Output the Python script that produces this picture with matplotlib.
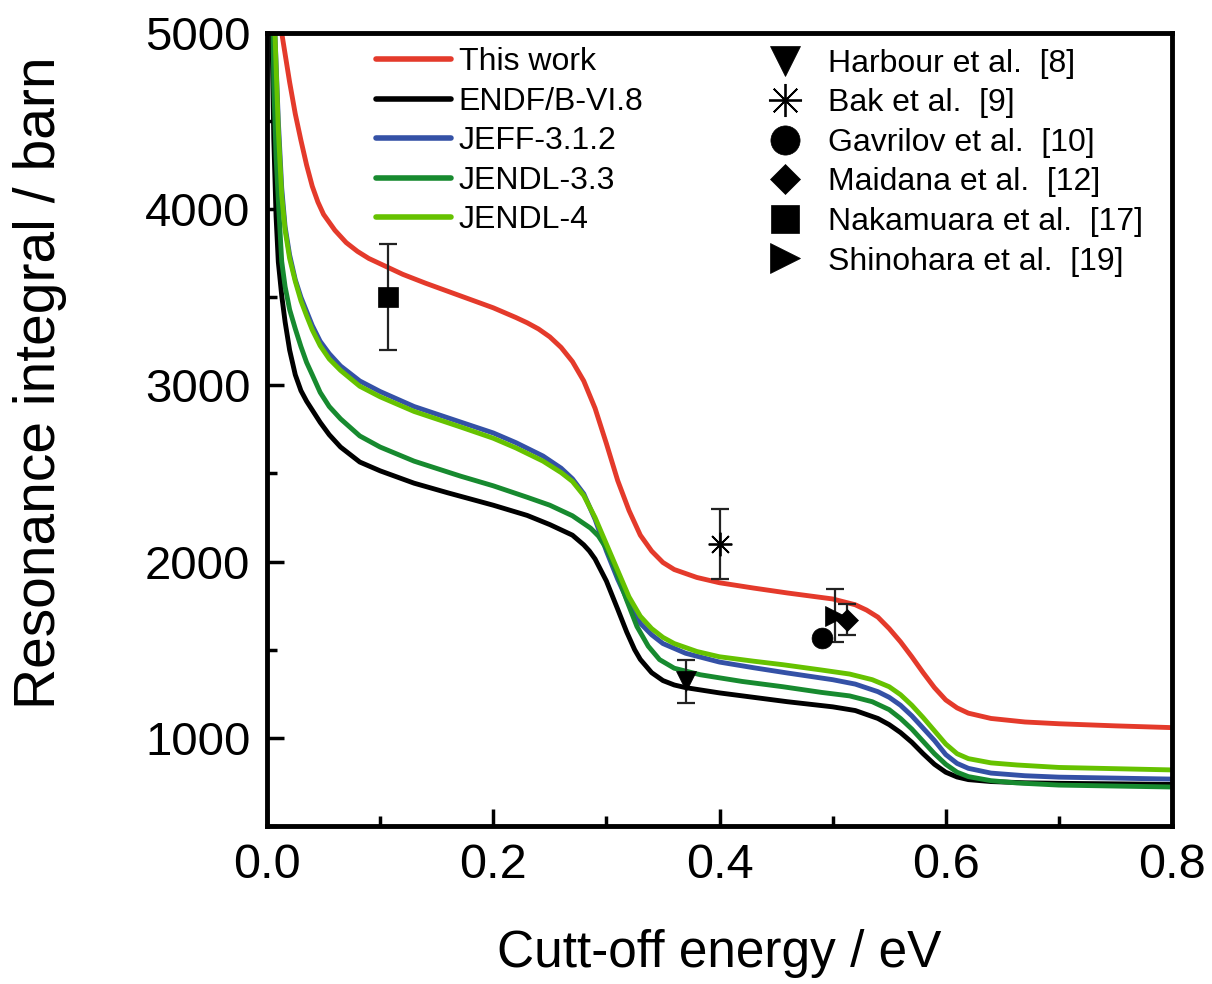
import numpy as np
import matplotlib
matplotlib.use("Agg")
import matplotlib.pyplot as plt
from matplotlib.ticker import MultipleLocator

plt.rcParams['font.family'] = ['Liberation Sans', 'DejaVu Sans']

# curves (cut-off energy in eV, resonance integral in barn)
x_red = [0.008, 0.013, 0.016, 0.02, 0.025, 0.03, 0.035, 0.04, 0.045, 0.05, 0.06,
         0.07, 0.08, 0.09, 0.10, 0.12, 0.14, 0.17, 0.20, 0.22, 0.23, 0.24, 0.25,
         0.26, 0.27, 0.28, 0.29, 0.30, 0.31, 0.32, 0.33, 0.34, 0.35, 0.36, 0.38,
         0.40, 0.43, 0.46, 0.50, 0.52, 0.53, 0.54, 0.55, 0.56, 0.57, 0.58, 0.59,
         0.60, 0.61, 0.62, 0.64, 0.67, 0.70, 0.75, 0.80]
y_red = [5600, 5000, 4880, 4720, 4540, 4390, 4250, 4130, 4040, 3970, 3880,
         3810, 3760, 3720, 3690, 3630, 3580, 3510, 3440, 3385, 3355, 3320, 3275,
         3215, 3135, 3025, 2870, 2670, 2460, 2290, 2150, 2060, 1995, 1955, 1910,
         1880, 1850, 1822, 1788, 1755, 1725, 1685, 1620, 1545, 1460, 1370, 1285,
         1215, 1170, 1140, 1110, 1090, 1080, 1068, 1058]

x_endf = [0.003, 0.0044, 0.006, 0.008, 0.010, 0.013, 0.016, 0.02, 0.025, 0.03,
          0.035, 0.04, 0.047, 0.055, 0.065, 0.082, 0.10, 0.13, 0.16, 0.20, 0.23,
          0.25, 0.27, 0.28, 0.285, 0.29, 0.30, 0.31, 0.318, 0.325, 0.33, 0.34,
          0.35, 0.36, 0.37, 0.40, 0.43, 0.46, 0.50, 0.52, 0.54, 0.55, 0.56, 0.57,
          0.58, 0.59, 0.60, 0.61, 0.62, 0.64, 0.67, 0.70, 0.80]
y_endf = [5600, 5000, 4400, 3960, 3700, 3509, 3360, 3200, 3060, 2970,
          2910, 2860, 2790, 2720, 2650, 2565, 2515, 2445, 2390, 2320, 2262,
          2210, 2150, 2095, 2060, 2015, 1890, 1730, 1600, 1500, 1445, 1370,
          1325, 1300, 1285, 1255, 1230, 1205, 1176, 1155, 1110, 1075, 1030, 975,
          910, 850, 805, 778, 763, 752, 745, 742, 736]

x_jeff = [0.004, 0.007, 0.010, 0.013, 0.016, 0.02, 0.025, 0.03, 0.035, 0.04,
          0.047, 0.055, 0.065, 0.082, 0.10, 0.13, 0.171, 0.20, 0.22, 0.244, 0.26,
          0.27, 0.28, 0.29, 0.30, 0.31, 0.32, 0.33, 0.34, 0.35, 0.37, 0.40, 0.43,
          0.46, 0.50, 0.52, 0.54, 0.55, 0.56, 0.57, 0.58, 0.59, 0.60, 0.61, 0.62,
          0.64, 0.67, 0.70, 0.80]
y_jeff = [5700, 5000, 4500, 4120, 3900, 3740, 3600, 3500, 3420, 3340,
          3250, 3180, 3110, 3025, 2965, 2880, 2792, 2730, 2675, 2599, 2530,
          2470, 2385, 2240, 2060, 1900, 1760, 1650, 1585, 1535, 1480, 1430, 1398,
          1368, 1330, 1305, 1262, 1230, 1185, 1125, 1055, 985, 905, 855, 827,
          800, 785, 777, 766]

x_jendl33 = [0.004, 0.006, 0.008, 0.010, 0.013, 0.016, 0.02, 0.025, 0.03, 0.035,
             0.04, 0.047, 0.055, 0.065, 0.082, 0.10, 0.13, 0.171, 0.20, 0.23,
             0.25, 0.27, 0.286, 0.293, 0.30, 0.309, 0.318, 0.327, 0.337, 0.347,
             0.36, 0.383, 0.42, 0.456, 0.49, 0.515, 0.535, 0.55, 0.56, 0.57,
             0.58, 0.59, 0.60, 0.61, 0.62, 0.64, 0.663, 0.70, 0.80]
y_jendl33 = [5600, 4704, 4300, 4050, 3703, 3560, 3430, 3321, 3220, 3130,
             3060, 2960, 2880, 2810, 2713, 2650, 2570, 2485, 2430, 2365,
             2320, 2260, 2190, 2145, 2075, 1939, 1780, 1632, 1520, 1444,
             1395, 1358, 1320, 1290, 1258, 1238, 1205, 1160, 1110, 1050,
             980, 910, 850, 805, 780, 757, 744, 732, 721]

x_jendl4 = [0.004, 0.007, 0.010, 0.013, 0.016, 0.02, 0.025, 0.03, 0.035, 0.04,
            0.047, 0.055, 0.065, 0.082, 0.10, 0.13, 0.171, 0.20, 0.22, 0.244,
            0.26, 0.27, 0.28, 0.29, 0.30, 0.31, 0.32, 0.33, 0.34, 0.35, 0.36,
            0.38, 0.40, 0.43, 0.456, 0.49, 0.515, 0.535, 0.55, 0.56, 0.57, 0.58,
            0.59, 0.60, 0.61, 0.62, 0.64, 0.663, 0.70, 0.80]
y_jendl4 = [5700, 5000, 4450, 4078, 3880, 3720, 3590, 3480, 3395, 3315,
            3225, 3150, 3085, 2995, 2935, 2852, 2764, 2700, 2645, 2570,
            2505, 2455, 2375, 2250, 2100, 1950, 1800, 1690, 1620, 1570, 1535,
            1490, 1460, 1435, 1415, 1385, 1362, 1330, 1290, 1245, 1185, 1115,
            1040, 965, 910, 882, 858, 846, 832, 818]

# experimental values
exp_names = ['Harbour et al.  [8]', 'Bak et al.  [9]', 'Gavrilov et al.  [10]',
             'Maidana et al.  [12]', 'Nakamuara et al.  [17]', 'Shinohara et al.  [19]']
exp_x = [0.370, 0.400, 0.491, 0.513, 0.107, 0.502]
exp_y = [1320, 2100, 1569, 1670, 3500, 1694]
exp_err = [120, 200, 0, 88, 300, 148]
exp_markers = ['v', (8, 2, 0), 'o', 'D', 's', '>']
exp_sizes = [15, 17, 15, 11, 14, 15]

fig = plt.figure(figsize=(12.12, 9.84), dpi=100)
ax = fig.add_axes([0.2203, 0.1606, 0.7467, 0.806])

curves = [
    (x_red, y_red, '#e43a2b', 'This work'),
    (x_endf, y_endf, 'black', 'ENDF/B-VI.8'),
    (x_jeff, y_jeff, '#3451a6', 'JEFF-3.1.2'),
    (x_jendl33, y_jendl33, '#178a2f', 'JENDL-3.3'),
    (x_jendl4, y_jendl4, '#66c200', 'JENDL-4'),
]
line_handles = []
for xs, ys, c, lab in curves:
    h, = ax.plot(xs, ys, '-', color=c, lw=3.5, label=lab,
                 solid_capstyle='round', solid_joinstyle='round')
    line_handles.append(h)

marker_handles = []
for i in range(len(exp_x)):
    if exp_err[i] > 0:
        ax.errorbar(exp_x[i], exp_y[i], yerr=exp_err[i], fmt='none',
                    ecolor='#222222', elinewidth=1.6, capsize=6.5, capthick=1.6, zorder=4)
    mk = exp_markers[i]
    h, = ax.plot(exp_x[i], exp_y[i], linestyle='none', marker=mk,
                 ms=exp_sizes[i], color='black', mec='black',
                 mew=1.3 if mk == (8, 2, 0) else 0.5, label=exp_names[i], zorder=5)
    marker_handles.append(h)

ax.set_xlim(0, 0.8)
ax.set_ylim(500, 5000)
ax.xaxis.set_major_locator(MultipleLocator(0.2))
ax.xaxis.set_minor_locator(MultipleLocator(0.1))
ax.yaxis.set_minor_locator(MultipleLocator(500))
ax.set_yticks([1000, 2000, 3000, 4000, 5000])
ax.tick_params(which='both', direction='in', width=2.5, top=False, right=False)
ax.tick_params(which='major', length=12)
ax.tick_params(which='minor', length=7)
ax.tick_params(axis='y', labelsize=34, pad=12)
ax.tick_params(axis='x', labelsize=35, pad=12)
for s in ax.spines.values():
    s.set_linewidth(3.5)

ax.set_xlabel('Cutt-off energy / eV', fontsize=37, labelpad=30)
ax.set_ylabel('Resonance integral / barn', fontsize=41)
ax.yaxis.set_label_coords(-0.221, 0.559)

leg1 = ax.legend(handles=line_handles, loc='upper left', bbox_to_anchor=(0.12, 0.982),
                 frameon=False, fontsize=23, handlelength=2.35, handletextpad=0.25,
                 labelspacing=0.3, borderpad=0, borderaxespad=0)
for ln in leg1.get_lines():
    ln.set_linewidth(4)
ax.add_artist(leg1)
ax.legend(handles=marker_handles, loc='upper left', bbox_to_anchor=(0.555, 0.98),
          frameon=False, fontsize=23, handlelength=1.0, handletextpad=0.85,
          labelspacing=0.3, borderpad=0, borderaxespad=0, markerscale=1.4, numpoints=1)

fig.savefig('out.png', dpi=100)
